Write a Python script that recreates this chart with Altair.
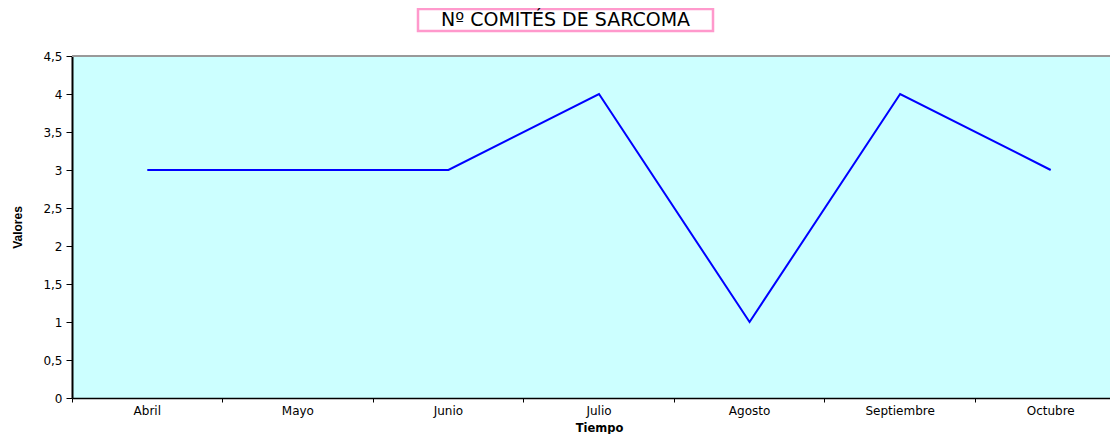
import altair as alt
import pandas as pd

meses = ["Abril", "Mayo", "Junio", "Julio", "Agosto", "Septiembre", "Octubre"]
valores = [3, 3, 3, 4, 1, 4, 3]
y_ticks = [0, 0.5, 1, 1.5, 2, 2.5, 3, 3.5, 4, 4.5]
titulo = "Nº COMITÉS DE SARCOMA"

df = pd.DataFrame({"mes": meses, "valor": valores})
df_titulo = pd.DataFrame({"t": [titulo]})

W = 1038          # visible plot width (the reference's plot runs past the right edge)
X_RANGE = 1054    # full extent of the category bands
H = 342
FONT = "DejaVu Sans"
FONT_Y = "Liberation Sans"

x_enc = alt.X(
    "mes:N", sort=meses, title="Tiempo", bandPosition=0.5,
    scale=alt.Scale(type="band", paddingInner=0, paddingOuter=0, range=[0, X_RANGE]),
    axis=alt.Axis(bandPosition=0, labelAngle=0,
                  domainColor="black", domainWidth=1.5, tickColor="black",
                  tickSize=4, labelFont=FONT, labelFontSize=12, labelColor="black",
                  labelPadding=3, titleFont=FONT, titleFontSize=11.5,
                  titleFontWeight="bold", titlePadding=6, titleColor="black"),
)
y_enc = alt.Y(
    "valor:Q", title="Valores",
    scale=alt.Scale(domain=[0, 4.5], nice=False),
    axis=alt.Axis(values=y_ticks,
                  labelExpr="replace(format(datum.value, '~g'), '.', ',')",
                  domainColor="black", domainWidth=2, tickColor="black", tickSize=6,
                  grid=False, labelFont=FONT, labelFontSize=12, labelColor="black",
                  labelPadding=4, titleFont=FONT_Y, titleFontSize=12,
                  titleFontWeight="bold", titlePadding=18, titleColor="black"),
)

line = alt.Chart(df).mark_line(color="#0000FF", strokeWidth=2).encode(x=x_enc, y=y_enc)

top_border = alt.Chart(df_titulo).mark_rule(color="#999999", strokeWidth=2).encode(
    x=alt.value(0), x2=alt.value(X_RANGE), y=alt.value(0)
)
box = alt.Chart(df_titulo).mark_rect(fill="white", stroke="#FF99CC", strokeWidth=2.5).encode(
    x=alt.value(346), x2=alt.value(641), y=alt.value(-47), y2=alt.value(-25)
)
txt = alt.Chart(df_titulo).mark_text(font=FONT, fontSize=19, color="black", baseline="middle").encode(
    x=alt.value(493.5), y=alt.value(-36), text="t:N"
)

chart = alt.layer(line, top_border, box, txt).properties(
    width=W, height=H,
    autosize=alt.AutoSizeParams(type="none"),
    padding={"left": 64, "top": 48, "right": 0, "bottom": 36},
).configure_view(
    fill="#CCFFFF", strokeWidth=0
)

chart.save("out.html", embed_options={"renderer": "svg", "actions": False})
